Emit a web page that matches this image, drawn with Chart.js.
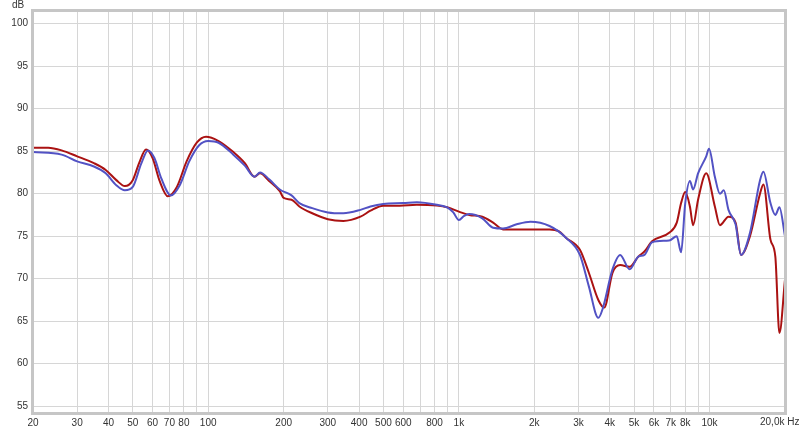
<!DOCTYPE html>
<html lang="en">
<head>
  <meta charset="UTF-8" />
  <title>Frequency response</title>
  <script src="https://cdn.jsdelivr.net/npm/chart.js@4.4.1/dist/chart.umd.min.js"></script>
  <style>
    html, body { margin: 0; padding: 0; background: #fff; }
    #wrap { width: 800px; height: 431px; }
  </style>
</head>
<body>
  <div id="wrap"><canvas id="fr" width="800" height="431"></canvas></div>
  <script>
    // red curve
    const redFreq = [20, 23, 26, 30, 35, 39, 43, 46.5, 50, 53, 56.5, 60, 64, 69, 75, 82, 90, 98, 110, 126, 140, 153, 161, 175, 193, 200, 215, 231, 260, 300, 346, 405, 444, 499, 580, 680, 818, 898, 1000, 1100, 1240, 1370, 1500, 1930, 2300, 2500, 2680, 3040, 3300, 3600, 3800, 4100, 4400, 4800, 5200, 5500, 5900, 6900, 7400, 7700, 8000, 8350, 8600, 9000, 9700, 10500, 11000, 11900, 12700, 13350, 14500, 15900, 16400, 17500, 18300, 19000, 20000];
    const redDb = [85.4, 85.4, 85.1, 84.4, 83.6, 82.8, 81.6, 80.9, 81.6, 83.6, 85.2, 84.2, 81.5, 79.7, 80.8, 83.8, 86.0, 86.7, 86.2, 84.9, 83.6, 82.0, 82.4, 81.5, 80.3, 79.5, 79.3, 78.5, 77.7, 77.0, 76.8, 77.3, 78.0, 78.6, 78.6, 78.7, 78.6, 78.4, 77.9, 77.5, 77.3, 76.6, 75.8, 75.8, 75.8, 75.6, 74.8, 73.4, 70.7, 67.5, 66.6, 70.7, 71.6, 71.4, 72.6, 73.2, 74.4, 75.4, 76.6, 78.9, 80.2, 78.5, 76.3, 79.3, 82.4, 78.5, 76.3, 77.3, 76.6, 72.8, 75.0, 80.0, 81.1, 74.6, 72.6, 63.6, 69.9];

    // blue curve
    const blueFreq = [20, 26, 30, 35, 39, 43, 46.5, 50, 54, 57.5, 61, 65, 71, 77, 84, 92, 100, 110, 126, 140, 153, 161, 175, 193, 215, 231, 260, 300, 346, 405, 444, 499, 600, 680, 818, 898, 950, 1000, 1050, 1100, 1240, 1370, 1500, 1700, 1930, 2300, 2680, 3040, 3300, 3600, 3750, 4100, 4400, 4800, 5200, 5500, 5900, 6900, 7400, 7700, 8000, 8350, 8600, 9000, 9700, 9950, 10500, 11000, 11400, 11900, 12700, 13350, 14500, 15900, 16400, 17500, 18300, 19000, 20000];
    const blueDb = [84.9, 84.6, 83.8, 83.2, 82.4, 81.0, 80.4, 80.8, 83.5, 85.1, 84.2, 81.8, 79.8, 81.0, 83.8, 85.7, 86.2, 86.0, 84.6, 83.3, 82.0, 82.5, 81.7, 80.5, 79.8, 78.9, 78.3, 77.8, 77.7, 78.1, 78.5, 78.8, 78.9, 79.0, 78.7, 78.4, 77.8, 76.9, 77.4, 77.6, 77.1, 76.0, 75.9, 76.4, 76.7, 76.2, 74.8, 72.8, 69.1, 65.4, 66.5, 71.1, 72.8, 71.1, 72.6, 72.8, 74.3, 74.5, 75.0, 73.1, 78.9, 81.5, 80.5, 82.4, 84.4, 85.3, 82.0, 80.0, 80.4, 78.1, 76.4, 72.8, 75.4, 81.6, 82.6, 78.9, 77.5, 78.4, 75.0];

    // axis ticks
    const freqTicks = [20, 30, 40, 50, 60, 70, 80, 90, 100, 200, 300, 400, 500, 600, 700, 800, 900, 1000, 2000, 3000, 4000, 5000, 6000, 7000, 8000, 9000, 10000, 20000];
    const freqLabels = ["20", "30", "40", "50", "60", "70", "80", "", "100", "200", "300", "400", "500", "600", "", "800", "", "1k", "2k", "3k", "4k", "5k", "6k", "7k", "8k", "", "10k", ""];
    const dbTicks = [55, 60, 65, 70, 75, 80, 85, 90, 95, 100];

    function toPoints(xs, ys) {
      return xs.map((x, i) => ({ x: x, y: ys[i] }));
    }

    const frame = {
      id: "frame",
      afterDraw(chart) {
        const ctx = chart.ctx;
        const a = chart.chartArea;
        ctx.save();
        ctx.strokeStyle = "#c6c6c6";
        ctx.lineWidth = 3;
        ctx.strokeRect(a.left - 0.5, a.top - 0.5, a.right - a.left + 1, a.bottom - a.top + 1);
        ctx.fillStyle = "#333";
        ctx.textBaseline = "middle";
        ctx.textAlign = "left";
        ctx.font = "10px 'Liberation Sans', Arial, sans-serif";
        ctx.fillText("20,0k Hz", 760, 422);
        ctx.fillText("dB", 12, 5);
        ctx.restore();
      }
    };

    new Chart(document.getElementById("fr").getContext("2d"), {
      type: "line",
      data: {
        datasets: [
          {
            label: "blue",
            data: toPoints(blueFreq, blueDb),
            borderColor: "rgb(82, 82, 196)",
            borderWidth: 2,
            pointRadius: 0,
            cubicInterpolationMode: "monotone",
          },
          {
            label: "red",
            data: toPoints(redFreq, redDb),
            borderColor: "rgb(170, 18, 18)",
            borderWidth: 2,
            pointRadius: 0,
            cubicInterpolationMode: "monotone",
          },
        ],
      },
      options: {
        responsive: false,
        animation: false,
        events: [],
        layout: { padding: { top: 11, right: 15, left: 0, bottom: 0 } },
        plugins: { legend: { display: false }, tooltip: { enabled: false } },
        scales: {
          x: {
            type: "logarithmic",
            min: 20,
            max: 20000,
            afterBuildTicks: (s) => { s.ticks = freqTicks.map((v) => ({ value: v })); },
            afterFit: (s) => { s.height = 18; },
            grid: { color: "#d6d6d6", drawTicks: false },
            border: { display: false },
            ticks: {
              autoSkip: false,
              maxRotation: 0,
              padding: 4,
              color: "#333",
              font: { family: "'Liberation Sans', Arial, sans-serif", size: 10 },
              callback: (v) => {
                const i = freqTicks.indexOf(v);
                return i >= 0 ? freqLabels[i] : "";
              },
            },
          },
          y: {
            min: 54.2,
            max: 101.5,
            afterBuildTicks: (s) => { s.ticks = dbTicks.map((v) => ({ value: v })); },
            afterFit: (s) => { s.width = 33; },
            grid: { color: "#d6d6d6", drawTicks: false },
            border: { display: false },
            ticks: {
              padding: 5,
              color: "#333",
              font: { family: "'Liberation Sans', Arial, sans-serif", size: 10 },
            },
          },
        },
      },
      plugins: [frame],
    });
  </script>
</body>
</html>
